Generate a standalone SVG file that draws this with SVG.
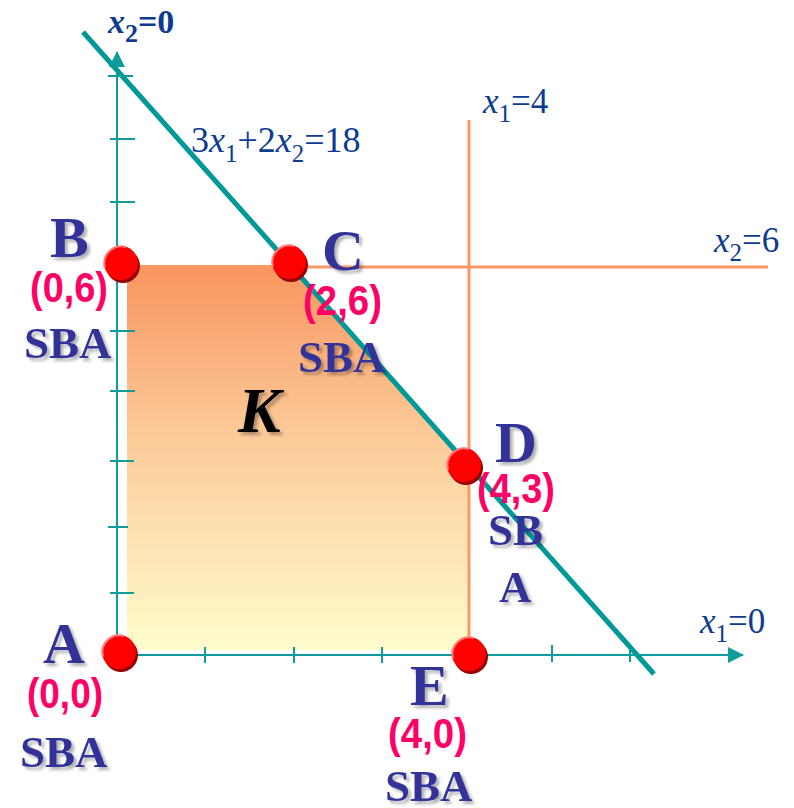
<svg xmlns="http://www.w3.org/2000/svg" width="794" height="808" viewBox="0 0 794 808">
<defs>
<linearGradient id="kgrad" x1="0" y1="0" x2="0" y2="1">
<stop offset="0" stop-color="#F9955F"/>
<stop offset="0.45" stop-color="#FCCB9A"/>
<stop offset="1" stop-color="#FFFCCC"/>
</linearGradient>
<marker id="arr" markerUnits="userSpaceOnUse" markerWidth="16" markerHeight="16" viewBox="0 0 16 16" refX="15" refY="8" orient="auto">
<path d="M0,0 L16,8 L0,16 Z" fill="#119C9C"/>
</marker>
<filter id="sh" x="-20%" y="-20%" width="150%" height="150%">
<feDropShadow dx="3" dy="3" stdDeviation="1.5" flood-color="#000" flood-opacity="0.3"/>
</filter>
<g id="dot">
<circle cx="2" cy="3" r="17" fill="#990000"/>
<circle cx="0" cy="0" r="17" fill="#FF0000"/>
<path d="M-16,5 A17,17 0 0 1 5,-16" fill="none" stroke="#FF7777" stroke-width="2"/>
</g>
</defs>
<style>
.lbl{font-family:"Liberation Serif",serif;font-weight:bold;fill:#333399;filter:url(#sh)}
.big{font-size:58px}
.sba{font-size:45px}
.coord{font-family:"Liberation Sans",Arial,sans-serif;font-weight:bold;font-size:42px;fill:#FF0066}
.eq{font-family:"Liberation Serif",serif;fill:#0D3B91}
.axis{stroke:#119C9C;stroke-width:2;fill:none}
.tick{stroke:#119C9C;stroke-width:2}
.orange{stroke:#FA9966;stroke-width:3;fill:none}
</style>

<g id="region">
<polygon points="127,265 290,265 468,463 468,650 127,650" fill="url(#kgrad)"/>
<text x="238" y="432" font-family="Liberation Serif,serif" font-weight="bold" font-style="italic" font-size="64" fill="#000" filter="url(#sh)">K</text>
</g>

<g id="connectors">
<line class="orange" x1="469" y1="120" x2="469" y2="655"/>
<line class="orange" x1="127" y1="267" x2="768" y2="267"/>
<line class="axis" x1="117" y1="656" x2="117" y2="52" marker-end="url(#arr)"/>
<line class="axis" x1="116" y1="655" x2="743" y2="655" marker-end="url(#arr)"/>
<g id="ticks">
<line class="tick" x1="108" y1="76" x2="133" y2="76"/>
<line class="tick" x1="110" y1="139" x2="135" y2="139"/>
<line class="tick" x1="110" y1="202" x2="135" y2="202"/>
<line class="tick" x1="110" y1="331" x2="135" y2="331"/>
<line class="tick" x1="110" y1="391" x2="135" y2="391"/>
<line class="tick" x1="110" y1="461" x2="134" y2="461"/>
<line class="tick" x1="108" y1="527" x2="128" y2="527"/>
<line class="tick" x1="110" y1="593" x2="134" y2="593"/>
<line class="tick" x1="205" y1="647" x2="205" y2="663"/>
<line class="tick" x1="294" y1="647" x2="294" y2="663"/>
<line class="tick" x1="382" y1="647" x2="382" y2="663"/>
<line class="tick" x1="552" y1="645" x2="552" y2="662"/>
<line class="tick" x1="630" y1="645" x2="630" y2="662"/>
</g>
<line x1="83" y1="32" x2="654" y2="674" stroke="#009999" stroke-width="5"/>
</g>

<g id="eqlabels">
<text class="eq" x="108" y="33" font-size="34" font-weight="bold"><tspan font-style="italic">x</tspan><tspan font-size="26" dy="9">2</tspan><tspan dy="-9">=0</tspan></text>
<text class="eq" x="191" y="152" font-size="36"><tspan>3</tspan><tspan font-style="italic">x</tspan><tspan font-size="25" dy="10">1</tspan><tspan dy="-10">+2</tspan><tspan font-style="italic">x</tspan><tspan font-size="25" dy="10">2</tspan><tspan dy="-10">=18</tspan></text>
<text class="eq" x="483" y="113" font-size="35"><tspan font-style="italic">x</tspan><tspan font-size="25" dy="9">1</tspan><tspan dy="-9">=4</tspan></text>
<text class="eq" x="714" y="252" font-size="35"><tspan font-style="italic">x</tspan><tspan font-size="25" dy="9">2</tspan><tspan dy="-9">=6</tspan></text>
<text class="eq" x="700" y="633" font-size="35"><tspan font-style="italic">x</tspan><tspan font-size="25" dy="9">1</tspan><tspan dy="-9">=0</tspan></text>
</g>

<g id="A">
<use href="#dot" x="119" y="652"/>
<text class="lbl big" x="43" y="663">A</text>
<text class="coord" x="27" y="708" textLength="76" lengthAdjust="spacingAndGlyphs">(0,0)</text>
<text class="lbl sba" x="20" y="767">SBA</text>
</g>
<g id="B">
<use href="#dot" x="121" y="263"/>
<text class="lbl big" x="50" y="257">B</text>
<text class="coord" x="30" y="302" textLength="78" lengthAdjust="spacingAndGlyphs">(0,6)</text>
<text class="lbl sba" x="24" y="358">SBA</text>
</g>
<g id="C">
<use href="#dot" x="289" y="262"/>
<text class="lbl big" x="322" y="270">C</text>
<text class="coord" x="303" y="315" textLength="79" lengthAdjust="spacingAndGlyphs">(2,6)</text>
<text class="lbl sba" x="298" y="372">SBA</text>
</g>
<g id="D">
<use href="#dot" x="464" y="465"/>
<text class="lbl big" x="495" y="462">D</text>
<text class="coord" x="477" y="503" textLength="78" lengthAdjust="spacingAndGlyphs">(4,3)</text>
<text class="lbl sba" x="488" y="545">SB</text>
<text class="lbl sba" x="499" y="602">A</text>
</g>
<g id="E">
<use href="#dot" x="469" y="654"/>
<text class="lbl big" x="410" y="705">E</text>
<text class="coord" x="388" y="748" textLength="79" lengthAdjust="spacingAndGlyphs">(4,0)</text>
<text class="lbl sba" x="385" y="801">SBA</text>
</g>
</svg>
